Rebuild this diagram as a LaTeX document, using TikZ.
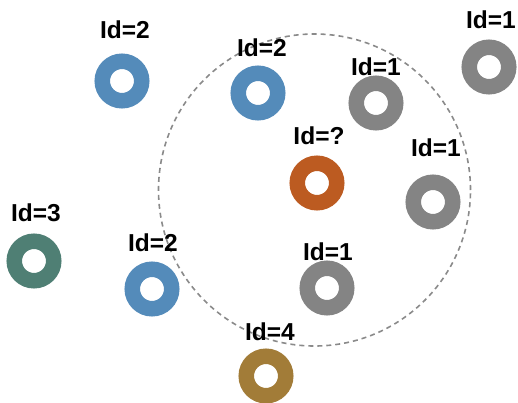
\documentclass[tikz,border=0pt]{standalone}
\usepackage{fontspec}
\setmainfont{Liberation Sans}
\begin{document}
\begin{tikzpicture}[x=1pt,y=-1pt,
  ring/.style={circle,draw=#1,line width=15.5pt,minimum size=39.5pt,inner sep=0pt},
  lbl/.style={font=\fontsize{24.5}{24.5}\selectfont\bfseries,inner sep=0pt,text=black},
  reach/.style={draw=dashgray,dash pattern=on 5pt off 4pt,line width=1.6pt}]
\definecolor{cblue}{HTML}{548BBA}
\definecolor{corange}{HTML}{BC5B21}
\definecolor{cgray}{HTML}{848484}
\definecolor{cgreen}{HTML}{4F7F74}
\definecolor{cbrown}{HTML}{A27C38}
\definecolor{dashgray}{HTML}{8A8A8A}
\useasboundingbox (0,0) rectangle (518,403);
\node[reach,circle,minimum size=312pt,inner sep=0pt] (range) at (314.5,190) {};
% rings
\node[ring=cblue] (b1) at (122,81) {};
\node[ring=cblue] (b2) at (258,93) {};
\node[ring=cgray] (g1) at (376,103) {};
\node[ring=cgray] (g2) at (489,67) {};
\node[ring=corange] (q) at (317,183) {};
\node[ring=cgray] (g3) at (433,202) {};
\node[ring=cgreen] (gr) at (34,261) {};
\node[ring=cblue] (b3) at (152,289) {};
\node[ring=cgray] (g4) at (327,288) {};
\node[ring=cbrown] (br) at (266,376) {};
% labels
\node[lbl] (lb1) at (125,30) {Id=2};
\node[lbl] (lb2) at (262,48) {Id=2};
\node[lbl] (lg1) at (376,67) {Id=1};
\node[lbl] (lg2) at (491,20) {Id=1};
\node[lbl] (lq) at (319,136) {Id=?};
\node[lbl] (lg3) at (436,148) {Id=1};
\node[lbl] (lgr) at (36,213) {Id=3};
\node[lbl] (lb3) at (153,243) {Id=2};
\node[lbl] (lg4) at (328,252) {Id=1};
\node[lbl] (lbr) at (270,332) {Id=4};
\end{tikzpicture}
\end{document}
